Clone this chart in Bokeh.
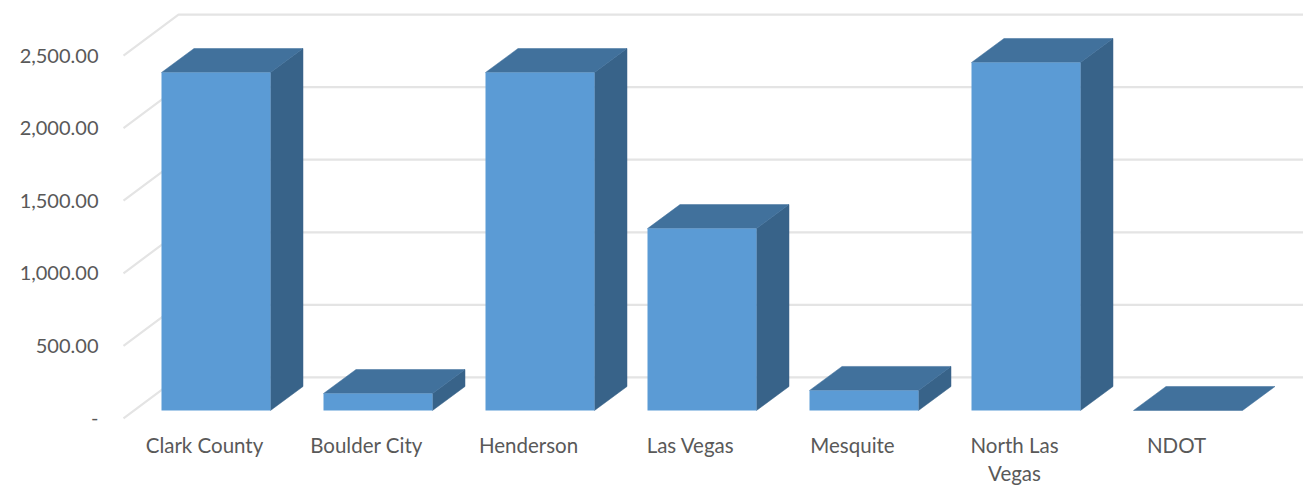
from bokeh.plotting import figure
from bokeh.embed import file_html
from bokeh.resources import INLINE
from bokeh.models import FixedTicker, Range1d

categories = ["Clark County", "Boulder City", "Henderson", "Las Vegas", "Mesquite", "North Las\nVegas", "NDOT"]
values = [2328, 117, 2328, 1253, 138, 2397, 0]
y_ticks = [0, 500, 1000, 1500, 2000, 2500]
y_labels = ["-", "500.00", "1,000.00", "1,500.00", "2,000.00", "2,500.00"]

FRONT = "#5b9bd5"
TOP = "#41719c"
SIDE = "#386389"
GRID = "#e4e4e4"
TEXT = "#595959"
FONT = "Lato"

# oblique projection, in data units
BAR_DX, BAR_DY = 32.5 / 162, 24 / 72.6 * 500
GRID_DX, GRID_DY = 55 / 162, 41 / 72.6 * 500
BAR_LEFT, BAR_W = -43 / 162, 109 / 162
BASE = 55

p = figure(width=1303, height=488, output_backend="svg", toolbar_location=None,
           x_range=Range1d(-99 / 162, 1099 / 162), y_range=Range1d(-14, 2879),
           min_border_left=105, min_border_right=0, min_border_top=0, min_border_bottom=68)
p.outline_line_color = None
p.background_fill_color = "white"
p.grid.visible = False

xs_end = p.x_range.end
p.multi_line([[-81 / 162, -81 / 162 + GRID_DX, xs_end] for _ in y_ticks],
             [[t, t + GRID_DY, t + GRID_DY] for t in y_ticks],
             line_color=GRID, line_width=2.2)

for i, v in enumerate(values):
    x0 = i + BAR_LEFT
    x1 = x0 + BAR_W
    y0 = BASE
    y1 = BASE + v
    if v > 0:
        p.patch([x1, x1 + BAR_DX, x1 + BAR_DX, x1], [y0, y0 + BAR_DY, y1 + BAR_DY, y1],
                fill_color=SIDE, line_color=SIDE, line_width=0.5)
    p.patch([x0, x0 + BAR_DX, x1 + BAR_DX, x1], [y1, y1 + BAR_DY, y1 + BAR_DY, y1],
            fill_color=TOP, line_color=TOP, line_width=0.5)
    if v > 0:
        p.quad(left=x0, right=x1, bottom=y0, top=y1, fill_color=FRONT, line_color=None)

ax = p.yaxis[0]
ax.ticker = FixedTicker(ticks=y_ticks)
ax.major_label_overrides = dict(zip(y_ticks, y_labels))
ax.axis_line_color = None
ax.major_tick_line_color = None
ax.minor_tick_line_color = None
ax.major_label_text_font = FONT
ax.major_label_text_font_size = "20px"
ax.major_label_text_color = TEXT
ax.major_label_standoff = 1

bx = p.xaxis[0]
bx.ticker = FixedTicker(ticks=list(range(len(categories))))
bx.major_label_overrides = dict(enumerate(categories))
bx.axis_line_color = None
bx.major_tick_line_color = None
bx.minor_tick_line_color = None
bx.major_label_text_font = FONT
bx.major_label_text_font_size = "20.5px"
bx.major_label_text_color = TEXT
bx.major_label_standoff = 6

open("out.html", "w").write(file_html(p, INLINE))
